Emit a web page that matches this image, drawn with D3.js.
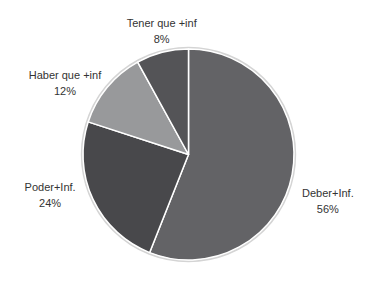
<!DOCTYPE html>
<html><head><meta charset="utf-8">
<script src="https://cdn.jsdelivr.net/npm/d3@7"></script>
<style>html,body{margin:0;padding:0;background:#fff;}</style>
</head><body>
<svg id="c" width="374" height="296"></svg>
<script>
const categories = ["Deber+Inf.", "Poder+Inf.", "Haber que +inf", "Tener que +inf"];
const values = [56, 24, 12, 8];
const percentLabels = ["56%", "24%", "12%", "8%"];
const colors = ["#636366", "#48484b", "#98999b", "#545457"];

const svg = d3.select("#c");
const cx = 188.5, cy = 154.5, r = 105.5;
const g = svg.append("g").attr("transform", `translate(${cx},${cy})`);

const data = categories.map((c, i) => ({name: c, value: values[i], pct: percentLabels[i], color: colors[i]}));
const pie = d3.pie().value(d => d.value).sort(null);
const arcs = pie(data);
const arc = d3.arc().innerRadius(0).outerRadius(r);

// soft outer shadow ring
g.append("circle").attr("r", r + 1.2).attr("fill", "none").attr("stroke", "#d4d4d4").attr("stroke-width", 2);

g.selectAll("path.s").data(arcs).enter().append("path")
  .attr("class", "s")
  .attr("d", arc)
  .attr("fill", d => d.data.color)
  .attr("stroke", "#ffffff")
  .attr("stroke-width", 1.5)
  .attr("stroke-linejoin", "round");

// label placement: ellipse around the pie at mid-angle, with small best-fit nudges
const rx = 148, ry = 126;
const nudge = {"Deber+Inf.": [-6, 23], "Poder+Inf.": [-4.5, -13], "Haber que +inf": [-9.5, 9], "Tener que +inf": [10, -1.5]};
const lab = g.selectAll("g.l").data(arcs).enter().append("g").attr("class", "l")
  .attr("transform", d => {
    const a = (d.startAngle + d.endAngle) / 2;
    const n = nudge[d.data.name];
    return `translate(${rx * Math.sin(a) + n[0]},${-ry * Math.cos(a) + n[1]})`;
  });
lab.append("text").attr("y", -4).attr("text-anchor", "middle")
  .attr("font-family", "Liberation Sans, Arial, sans-serif").attr("font-size", 11)
  .attr("fill", "#333").text(d => d.data.name);
lab.append("text").attr("y", 12).attr("text-anchor", "middle")
  .attr("font-family", "Liberation Sans, Arial, sans-serif").attr("font-size", 11)
  .attr("fill", "#333").text(d => d.data.pct);
</script>
</body></html>
